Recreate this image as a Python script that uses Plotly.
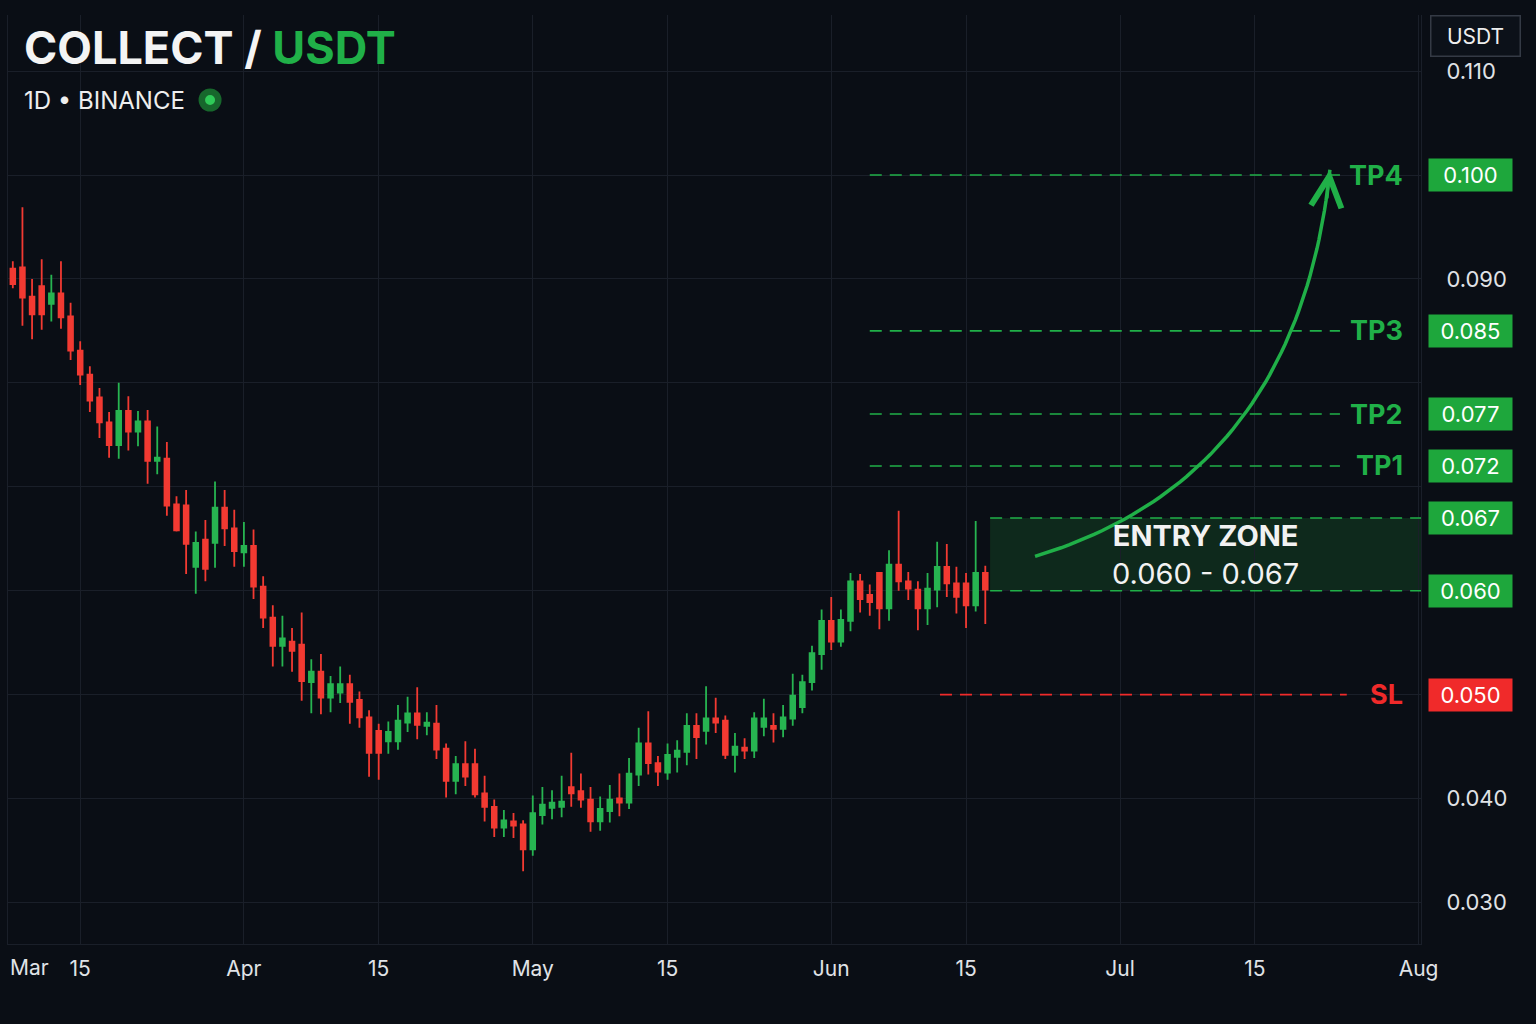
import numpy as np
import pandas as pd
import plotly.graph_objects as go

# daily candles (Mar 8 .. Jun 17)
dates = pd.date_range('2024-03-08', periods=102, freq='D')
opens = [0.0910, 0.0911, 0.0883, 0.0893, 0.0876, 0.0886, 0.0864, 0.0831, 0.0808, 0.0786,
         0.0762, 0.0740, 0.0773, 0.0753, 0.0763, 0.0725, 0.0727, 0.0683, 0.0682, 0.0623,
         0.0649, 0.0646, 0.0680, 0.0660, 0.0637, 0.0643, 0.0604, 0.0574, 0.0547, 0.0551,
         0.0548, 0.0512, 0.0522, 0.0497, 0.0502, 0.0510, 0.0495, 0.0478, 0.0465, 0.0455,
         0.0455, 0.0473, 0.0482, 0.0470, 0.0472, 0.0448, 0.0417, 0.0433, 0.0433, 0.0405,
         0.0392, 0.0372, 0.0378, 0.0375, 0.0351, 0.0384, 0.0391, 0.0392, 0.0411, 0.0407,
         0.0399, 0.0378, 0.0388, 0.0400, 0.0396, 0.0423, 0.0453, 0.0434, 0.0425, 0.0440,
         0.0445, 0.0470, 0.0465, 0.0477, 0.0475, 0.0442, 0.0449, 0.0446, 0.0469, 0.0470,
         0.0467, 0.0477, 0.0488, 0.0512, 0.0539, 0.0571, 0.0551, 0.0571, 0.0609, 0.0596,
         0.0617, 0.0583, 0.0625, 0.0609, 0.0601, 0.0583, 0.0601, 0.0623, 0.0607, 0.0607,
         0.0586, 0.0617]
highs = [0.0917, 0.0969, 0.0900, 0.0919, 0.0904, 0.0917, 0.0877, 0.0840, 0.0816, 0.0795,
         0.0772, 0.0800, 0.0787, 0.0773, 0.0774, 0.0758, 0.0743, 0.0691, 0.0697, 0.0657,
         0.0668, 0.0705, 0.0697, 0.0678, 0.0666, 0.0659, 0.0614, 0.0586, 0.0576, 0.0564,
         0.0579, 0.0534, 0.0539, 0.0518, 0.0527, 0.0519, 0.0503, 0.0485, 0.0472, 0.0474,
         0.0490, 0.0498, 0.0507, 0.0483, 0.0490, 0.0453, 0.0441, 0.0455, 0.0448, 0.0422,
         0.0399, 0.0389, 0.0386, 0.0379, 0.0403, 0.0411, 0.0408, 0.0422, 0.0444, 0.0424,
         0.0411, 0.0402, 0.0413, 0.0424, 0.0439, 0.0468, 0.0484, 0.0441, 0.0453, 0.0456,
         0.0482, 0.0482, 0.0508, 0.0497, 0.0480, 0.0463, 0.0458, 0.0483, 0.0496, 0.0482,
         0.0490, 0.0520, 0.0519, 0.0547, 0.0582, 0.0594, 0.0582, 0.0617, 0.0616, 0.0606,
         0.0618, 0.0639, 0.0677, 0.0618, 0.0609, 0.0617, 0.0647, 0.0645, 0.0623, 0.0617,
         0.0667, 0.0624]
lows = [0.0891, 0.0855, 0.0842, 0.0851, 0.0859, 0.0852, 0.0822, 0.0798, 0.0772, 0.0747,
        0.0728, 0.0727, 0.0735, 0.0739, 0.0703, 0.0712, 0.0672, 0.0657, 0.0616, 0.0597,
        0.0609, 0.0622, 0.0643, 0.0623, 0.0623, 0.0592, 0.0564, 0.0527, 0.0527, 0.0522,
        0.0494, 0.0482, 0.0481, 0.0483, 0.0492, 0.0472, 0.0468, 0.0421, 0.0418, 0.0443,
        0.0447, 0.0464, 0.0457, 0.0461, 0.0438, 0.0401, 0.0404, 0.0412, 0.0401, 0.0378,
        0.0363, 0.0363, 0.0362, 0.0330, 0.0345, 0.0375, 0.0380, 0.0382, 0.0392, 0.0391,
        0.0368, 0.0369, 0.0377, 0.0383, 0.0390, 0.0412, 0.0423, 0.0412, 0.0418, 0.0425,
        0.0432, 0.0438, 0.0452, 0.0463, 0.0438, 0.0425, 0.0438, 0.0439, 0.0460, 0.0454,
        0.0459, 0.0470, 0.0482, 0.0504, 0.0524, 0.0543, 0.0546, 0.0561, 0.0579, 0.0576,
        0.0563, 0.0571, 0.0600, 0.0591, 0.0562, 0.0567, 0.0584, 0.0594, 0.0578, 0.0564,
        0.0580, 0.0568]
closes = [0.0895, 0.0882, 0.0866, 0.0866, 0.0886, 0.0863, 0.0831, 0.0808, 0.0783, 0.0762,
          0.0740, 0.0773, 0.0753, 0.0763, 0.0725, 0.0728, 0.0682, 0.0658, 0.0645, 0.0646,
          0.0621, 0.0680, 0.0660, 0.0638, 0.0643, 0.0604, 0.0574, 0.0547, 0.0554, 0.0542,
          0.0513, 0.0522, 0.0497, 0.0510, 0.0510, 0.0493, 0.0478, 0.0444, 0.0444, 0.0464,
          0.0475, 0.0482, 0.0471, 0.0473, 0.0447, 0.0417, 0.0433, 0.0421, 0.0404, 0.0392,
          0.0372, 0.0379, 0.0374, 0.0351, 0.0386, 0.0394, 0.0396, 0.0397, 0.0405, 0.0399,
          0.0378, 0.0390, 0.0399, 0.0396, 0.0424, 0.0453, 0.0434, 0.0426, 0.0442, 0.0446,
          0.0470, 0.0459, 0.0477, 0.0473, 0.0442, 0.0450, 0.0446, 0.0477, 0.0477, 0.0467,
          0.0478, 0.0499, 0.0512, 0.0540, 0.0571, 0.0551, 0.0572, 0.0609, 0.0592, 0.0589,
          0.0583, 0.0625, 0.0609, 0.0602, 0.0583, 0.0602, 0.0623, 0.0607, 0.0594, 0.0586,
          0.0617, 0.0601]

# trade plan levels
tp_names = ['TP1', 'TP2', 'TP3', 'TP4']
tp_levels = [0.072, 0.077, 0.085, 0.100]
entry_low, entry_high = 0.060, 0.067
sl_level = 0.050

# axis ticks
x_tickvals = ['2024-03-15', '2024-04-01', '2024-04-15', '2024-05-01', '2024-05-15',
              '2024-06-01', '2024-06-15', '2024-07-01', '2024-07-15', '2024-08-01']
x_ticktext = ['15', 'Apr', '15', 'May', '15', 'Jun', '15', 'Jul', '15', 'Aug']
y_tickvals = [0.03, 0.04, 0.05, 0.06, 0.07, 0.08, 0.09, 0.10, 0.11]
y_ticktext = ['0.030', '0.040', '', '', '', '', '0.090', '', '0.110']

BG = '#0a0e15'
GRID = '#1a1f29'
GREEN = '#27b451'
RED = '#f23a32'
TXT_GREEN = '#20b048'
BOX_GREEN = '#1ea73c'
BOX_RED = '#f02a2a'

X_RANGE = ['2024-03-07 12:00', '2024-08-01 06:00']
Y_RANGE = [0.0260, 0.1154]

fig = go.Figure()

fig.add_trace(go.Candlestick(
    x=dates, open=opens, high=highs, low=lows, close=closes,
    increasing=dict(line=dict(color=GREEN, width=1.8), fillcolor=GREEN),
    decreasing=dict(line=dict(color=RED, width=1.8), fillcolor=RED),
    whiskerwidth=0, showlegend=False, hoverinfo='skip'))

# entry zone box
zone_x0 = '2024-06-17 12:00'
fig.add_shape(type='rect', xref='x', yref='y', x0=zone_x0, x1=X_RANGE[1],
              y0=entry_low, y1=entry_high, fillcolor='rgba(30,140,55,0.22)',
              line=dict(width=0), layer='below')
for lvl in (entry_low, entry_high):
    fig.add_shape(type='line', xref='x', yref='y', x0=zone_x0, x1=X_RANGE[1], y0=lvl, y1=lvl,
                  line=dict(color=TXT_GREEN, width=1.6, dash='12px,8px'))

# TP lines + labels
for name, lvl in zip(tp_names, tp_levels):
    fig.add_shape(type='line', xref='x', yref='y', x0='2024-06-05', x1='2024-07-23 20:00',
                  y0=lvl, y1=lvl, line=dict(color=TXT_GREEN, width=1.6, dash='12px,8px'))
    fig.add_annotation(xref='paper', yref='y', x=0.9887, y=lvl, xanchor='right', yanchor='middle',
                       text='<b>%s</b>' % name, showarrow=False,
                       font=dict(size=27, color=TXT_GREEN, family='Inter'))

# stop loss
fig.add_shape(type='line', xref='x', yref='y', x0='2024-06-12 07:00', x1='2024-07-24 13:00',
              y0=sl_level, y1=sl_level, line=dict(color=BOX_RED, width=1.6, dash='12px,8px'))
fig.add_annotation(xref='paper', yref='y', x=0.9887, y=sl_level, xanchor='right', yanchor='middle',
                   text='<b>SL</b>', showarrow=False, font=dict(size=27, color=BOX_RED, family='Inter'))

# price tags on the right
for lvl, col in [(l, BOX_GREEN) for l in tp_levels + [entry_high, entry_low]] + [(sl_level, BOX_RED)]:
    fig.add_annotation(xref='paper', yref='y', x=1.005, y=lvl, xanchor='left', yanchor='middle',
                       text='%.3f' % lvl, showarrow=False, bgcolor=col, width=75, height=24,
                       borderpad=4, font=dict(size=22, color='white', family='Inter'))

# entry zone caption
zone_mid = pd.Timestamp(zone_x0) + (pd.Timestamp(X_RANGE[1]) - pd.Timestamp(zone_x0)) / 2
fig.add_annotation(xref='x', yref='y', x=zone_mid, y=(entry_low + entry_high) / 2,
                   text='<b>ENTRY ZONE</b><br>%.3f - %.3f' % (entry_low, entry_high),
                   showarrow=False, font=dict(size=29, color='#f2f2f2', family='Inter'))

# curved arrow from the zone up to TP4
arrow_start = ('2024-06-22 04:00', 0.0633)
arrow_ctrl = ('2024-07-19 10:00', 0.0709)
arrow_end = ('2024-07-22 19:00', 0.1005)
p = [pd.Timestamp(a[0]).value / 1e6 for a in (arrow_start, arrow_ctrl, arrow_end)]
q = [a[1] for a in (arrow_start, arrow_ctrl, arrow_end)]
t = np.linspace(0, 1, 60)
bx = (1 - t) ** 2 * p[0] + 2 * (1 - t) * t * p[1] + t ** 2 * p[2]
by = (1 - t) ** 2 * q[0] + 2 * (1 - t) * t * q[1] + t ** 2 * q[2]
fig.add_trace(go.Scatter(x=pd.to_datetime(bx, unit='ms'), y=by, mode='lines',
                         line=dict(color=TXT_GREEN, width=3.5), hoverinfo='skip', showlegend=False))
fig.add_annotation(xref='x', yref='y', x=arrow_end[0], y=arrow_end[1], ax=-3, ay=30,
                   text='', showarrow=True, arrowhead=5, arrowsize=2.0, arrowwidth=3,
                   arrowcolor=TXT_GREEN)

# header
fig.add_annotation(xref='paper', yref='paper', x=0.0099, y=0.9645, xanchor='left', yanchor='middle',
                   text='<b>COLLECT / <span style="color:%s">USDT</span></b>' % TXT_GREEN,
                   showarrow=False, font=dict(size=45, color='#f4f4f4', family='Inter'))
fig.add_annotation(xref='paper', yref='paper', x=0.0099, y=0.9085, xanchor='left', yanchor='middle',
                   text='1D • BINANCE', showarrow=False,
                   font=dict(size=24, color='#eeeeee', family='Inter'))
for r, col in [(11.5, '#17672c'), (5, '#2fcb58')]:
    fig.add_shape(type='circle', xref='paper', yref='paper', xsizemode='pixel', ysizemode='pixel',
                  xanchor=0.143, yanchor=0.9085, x0=-r, x1=r, y0=-r, y1=r,
                  fillcolor=col, line=dict(width=0))
fig.add_annotation(xref='paper', yref='paper', x=1.0389, y=0.9774, xanchor='center', yanchor='middle',
                   text='USDT', showarrow=False, bgcolor='#0c1119', bordercolor='#343a45',
                   borderwidth=1.5, borderpad=7, width=74,
                   font=dict(size=21, color='#eeeeee', family='Inter'))
fig.add_annotation(xref='paper', yref='paper', x=0, y=-0.0258, xanchor='left', yanchor='middle',
                   text='Mar', showarrow=False, font=dict(size=21, color='#e0e3e7', family='Inter'))

fig.update_layout(
    width=1536, height=1024,
    margin=dict(l=8, r=115, t=15, b=80),
    paper_bgcolor=BG, plot_bgcolor=BG,
    font=dict(family='Inter', color='#e0e3e7'),
    xaxis=dict(type='date', range=X_RANGE, tickmode='array', tickvals=x_tickvals, ticktext=x_ticktext,
               showgrid=True, gridcolor=GRID, gridwidth=1, zeroline=False,
               showline=True, linecolor=GRID, ticks='', ticklabelstandoff=6,
               tickfont=dict(size=21, color='#e0e3e7'), rangeslider=dict(visible=False)),
    yaxis=dict(side='right', range=Y_RANGE, tickmode='array', tickvals=y_tickvals, ticktext=y_ticktext,
               showgrid=True, gridcolor=GRID, gridwidth=1, zeroline=False,
               showline=True, mirror=True, linecolor=GRID, ticks='', ticklabelstandoff=20,
               tickfont=dict(size=22, color='#e0e3e7')),
)

fig.write_html("out.html", config={'displayModeBar': False},
               post_script="document.body.style.margin='0';document.body.style.background='%s';" % BG)
